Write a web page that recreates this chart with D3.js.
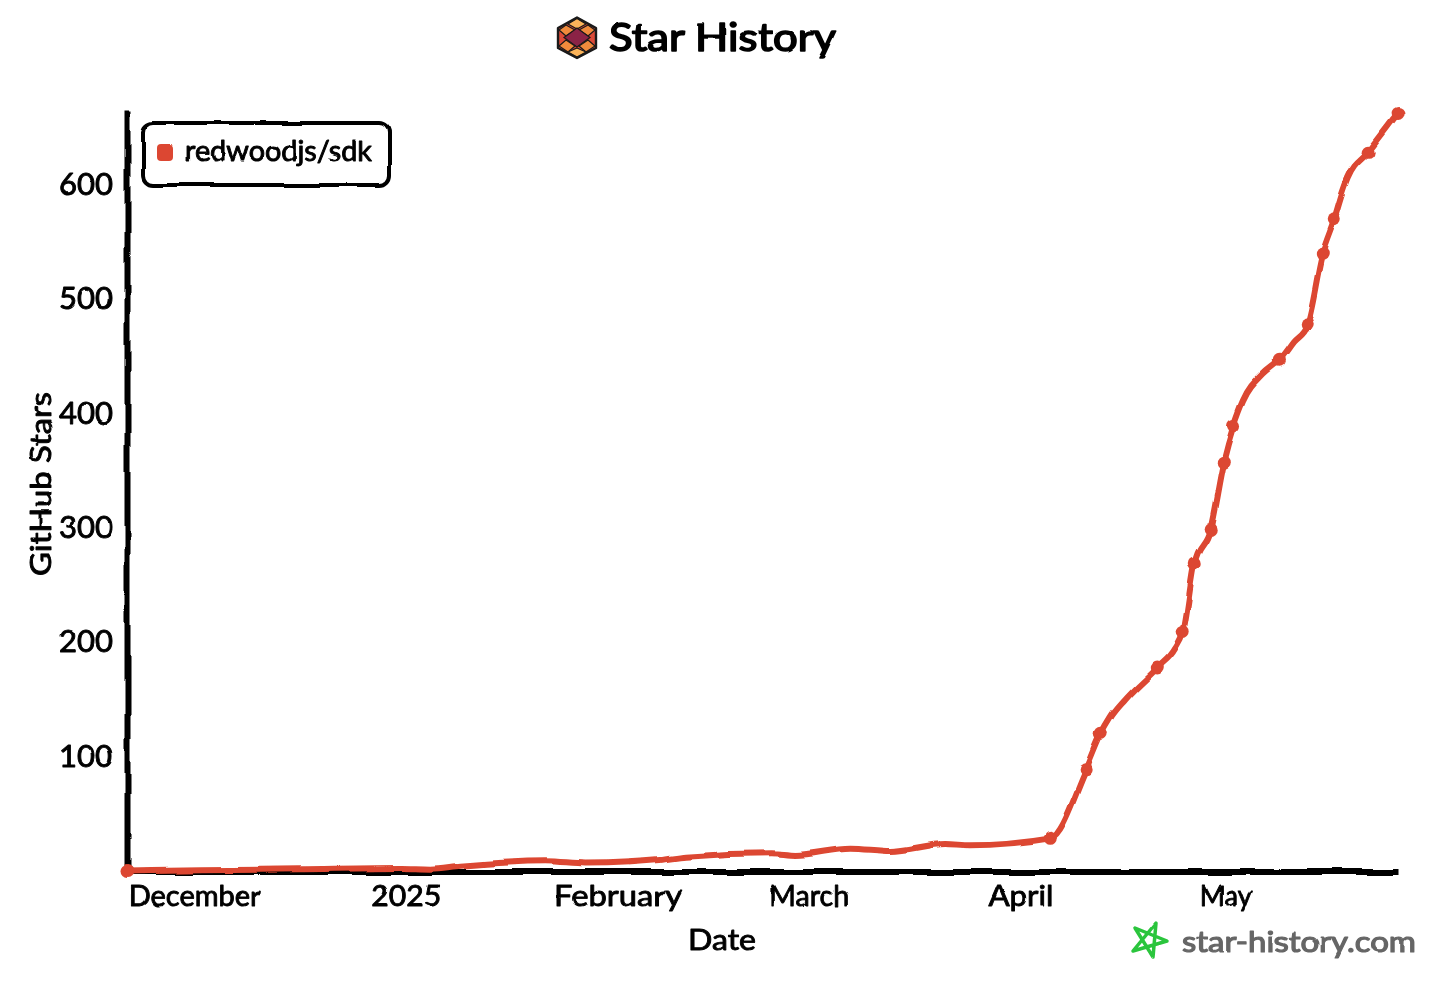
<!DOCTYPE html>
<html>
<head>
<meta charset="utf-8">
<script src="https://cdn.jsdelivr.net/npm/d3@7"></script>
<style>
  html, body { margin: 0; padding: 0; background: #fff; }
  text { font-family: "Lato", sans-serif; font-weight: 400; fill: #000; stroke: #000; stroke-width: 0.9; stroke-linejoin: round; }
</style>
</head>
<body>
<div id="container"></div>
<script>
/* DATA */
const seriesName = "redwoodjs/sdk"

// the line
const lineDates = ["2024-11-21T04", "2024-12-02T00", "2024-12-16T12", "2024-12-31T05", "2025-01-04T14", "2025-01-09T00",
  "2025-01-21T10", "2025-01-27T07", "2025-02-07T05", "2025-02-10T22", "2025-02-23T10", "2025-02-27T00",
  "2025-03-07T02", "2025-03-12T22", "2025-03-21T00", "2025-03-24T14", "2025-04-05T09", "2025-04-10T15",
  "2025-04-12T20", "2025-04-14T04", "2025-04-16T08", "2025-04-21T01", "2025-04-23T16", "2025-04-24T20",
  "2025-04-26T11", "2025-04-28T19", "2025-04-30T17", "2025-05-02T05", "2025-05-03T14", "2025-05-06T14",
  "2025-05-08T22", "2025-05-10T23", "2025-05-13T00", "2025-05-15T05", "2025-05-16T23", "2025-05-18T03", "2025-05-18T22",
  "2025-05-21T22", "2025-05-26T07"]
const lineStars = [0, 1, 2, 3, 2.5, 5,
  9, 7, 10, 13, 16, 14.5,
  20, 18, 24, 23, 29, 89,
  120, 134, 150, 178, 195, 210,
  269, 300, 358, 390, 412, 436,
  448, 464, 479, 540, 570, 593, 606,
  629, 663]

// the dots on the line
const dotDates = ["2024-11-21T04", "2025-04-05T09", "2025-04-10T15", "2025-04-12T20", "2025-04-21T01", "2025-04-24T20",
  "2025-04-26T11", "2025-04-28T19", "2025-04-30T17", "2025-05-02T05", "2025-05-08T22", "2025-05-13T00",
  "2025-05-15T05", "2025-05-16T23", "2025-05-21T22", "2025-05-26T07"]
const dotStars = [0, 29, 89, 120, 178, 210, 269, 300, 358, 390, 448, 479, 540, 570, 629, 663]

const xTickDates = ["2024-12-01T00", "2025-01-01T00", "2025-02-01T00", "2025-03-01T00", "2025-04-01T00", "2025-05-01T00"]
const xTickLabels = ["December", "2025", "February", "March", "April", "May"]
const yTicks = [100, 200, 300, 400, 500, 600]

/* CONSTANTS */
const width = 1450,
  height = 984,
  lineColor = "#dc4730",
  parseDate = s => new Date(s + ":00:00Z")

/* SCALES */
const xScale = d3.scaleUtc()
  .domain([parseDate("2024-11-21T04"), parseDate("2025-05-26T07")])
  .range([127, 1398])

const yScale = d3.scaleLinear()
  .domain([0, 666])
  .range([871.5, 110])

/* SVG */
const svg = d3.select("#container")
  .append("svg")
  .attr("width", width)
  .attr("height", height)
  .style("display", "block")

// the hand drawn look
const defs = svg.append("defs")
function addFilter(id, freq, scale) {
  const f = defs.append("filter")
    .attr("id", id)
    .attr("filterUnits", "userSpaceOnUse")
    .attr("x", 0).attr("y", 0)
    .attr("width", width).attr("height", height)
  f.append("feTurbulence")
    .attr("type", "fractalNoise")
    .attr("baseFrequency", freq)
    .attr("result", "noise")
  f.append("feDisplacementMap")
    .attr("scale", scale)
    .attr("xChannelSelector", "R")
    .attr("yChannelSelector", "G")
    .attr("in", "SourceGraphic")
    .attr("in2", "noise")
}
addFilter("xkcdify", 0.025, 6)
addFilter("xkcdify-text", 0.06, 2.5)

const sketch = svg.append("g").attr("filter", "url(#xkcdify)")
const words = svg.append("g").attr("filter", "url(#xkcdify-text)")

/* AXES */
const xAxis = d3.axisBottom(xScale)
  .tickValues(xTickDates.map(parseDate))
  .tickSize(0)
  .tickFormat((d, i) => xTickLabels[i])
const yAxis = d3.axisLeft(yScale)
  .tickValues(yTicks)
  .tickSize(0)

function drawAxis(axis, tx, ty, fontSize, pad) {
  // spine goes through the rough filter, labels through the lighter one
  const g = sketch.append("g")
    .attr("transform", `translate(${tx}, ${ty})`)
    .call(axis.tickPadding(pad))
  g.select(".domain").attr("stroke", "#000").attr("stroke-width", 6)
  const labels = words.append("g").attr("transform", `translate(${tx}, ${ty})`)
  g.selectAll(".tick").each(function() {
    const t = d3.select(this)
    labels.append("g")
      .attr("transform", t.attr("transform"))
      .append(() => t.select("text").attr("font-size", fontSize).attr("font-family", null).node())
  })
  g.selectAll(".tick").remove()
  return labels
}
const xLabels = drawAxis(xAxis, 0, 871.5, 29, 10)
xLabels.selectAll("text").attr("text-anchor", "middle").attr("dy", "0.71em").attr("y", 14)
xLabels.selectAll("text").attr("textLength", (d, i) => [132, 70, 128, 80, 65, 52][i]).attr("lengthAdjust", "spacingAndGlyphs")
const yLabels = drawAxis(yAxis, 127, 0, 30, 14)
yLabels.selectAll("text").attr("text-anchor", "end").attr("dy", "0.3em")
  .attr("textLength", 54).attr("lengthAdjust", "spacingAndGlyphs")

/* LINE */
const line = d3.line()
  .x(d => xScale(d.date))
  .y(d => yScale(d.stars))
  .curve(d3.curveMonotoneX)

const lineData = lineDates.map((d, i) => ({ date: parseDate(d), stars: lineStars[i] }))
const dotData = dotDates.map((d, i) => ({ date: parseDate(d), stars: dotStars[i] }))

sketch.append("path")
  .datum(lineData)
  .attr("d", line)
  .attr("fill", "none")
  .attr("stroke", lineColor)
  .attr("stroke-width", 6)
  .attr("stroke-linecap", "round")
  .attr("stroke-linejoin", "round")

sketch.selectAll("circle.dot")
  .data(dotData)
  .join("circle")
  .attr("class", "dot")
  .attr("cx", d => xScale(d.date))
  .attr("cy", d => yScale(d.stars))
  .attr("r", 6.5)
  .attr("fill", lineColor)

/* LEGEND */
sketch.append("rect")
  .attr("x", 143).attr("y", 123)
  .attr("width", 247).attr("height", 62)
  .attr("rx", 10)
  .attr("fill", "#fff")
  .attr("stroke", "#000")
  .attr("stroke-width", 4)
sketch.append("rect")
  .attr("x", 157).attr("y", 145)
  .attr("width", 17).attr("height", 16)
  .attr("rx", 4)
  .attr("fill", lineColor)
words.append("text")
  .attr("x", 185).attr("y", 161)
  .attr("font-size", 28)
  .attr("textLength", 187)
  .attr("lengthAdjust", "spacingAndGlyphs")
  .text(seriesName)

/* AXIS TITLES */
words.append("text")
  .attr("x", 722).attr("y", 950)
  .attr("text-anchor", "middle")
  .attr("font-size", 29)
  .attr("textLength", 68)
  .attr("lengthAdjust", "spacingAndGlyphs")
  .text("Date")
words.append("text")
  .attr("transform", "translate(51, 484) rotate(-90)")
  .attr("text-anchor", "middle")
  .attr("font-size", 28)
  .attr("textLength", 184)
  .attr("lengthAdjust", "spacingAndGlyphs")
  .text("GitHub Stars")

/* TITLE */
words.append("text")
  .attr("x", 609).attr("y", 51)
  .attr("font-size", 38)
  .attr("textLength", 227)
  .attr("lengthAdjust", "spacingAndGlyphs")
  .style("stroke-width", 1.6)
  .text("Star History")

// logo
const logo = svg.append("g")
const hexPts = "577,17.5 596,28 596,48 577,58 558,48 558,28"
logo.append("polygon").attr("points", hexPts).attr("fill", "#dc4a38")
const tiles = [
  ["577,18.5 586,24 577,29 568,24", "#fbb45a"],
  ["566,25 575,30 566,36 559,30", "#f08a3c"],
  ["588,25 595,30 588,36 579,30", "#f08a3c"],
  ["577,28 590,37.5 577,47 564,37.5", "#8b2346"],
  ["566,40 575,46 568,52 559,46", "#f08a3c"],
  ["588,40 595,46 586,52 579,46", "#f08a3c"],
  ["577,48 586,52 577,57 568,52", "#fbb45a"]
]
logo.selectAll("polygon.tile")
  .data(tiles)
  .join("polygon")
  .attr("class", "tile")
  .attr("points", d => d[0])
  .attr("fill", d => d[1])
  .attr("stroke", "#1a1a1a")
  .attr("stroke-width", 1.2)
logo.append("polygon").attr("points", hexPts)
  .attr("fill", "none").attr("stroke", "#1a1a1a").attr("stroke-width", 2.4)
  .attr("stroke-linejoin", "round")

/* WATERMARK */
words.append("polygon")
  .attr("points", "1156,923 1153,957 1135,928 1167,941 1133,951")
  .attr("fill", "none")
  .attr("stroke", "#2cc53c")
  .attr("stroke-width", 3.5)
  .attr("stroke-linejoin", "round")
words.append("text")
  .attr("x", 1182).attr("y", 952)
  .attr("font-size", 29)
  .attr("textLength", 234)
  .attr("lengthAdjust", "spacingAndGlyphs")
  .style("fill", "#666")
  .style("stroke", "#666")
  .style("stroke-width", 1.2)
  .text("star-history.com")
</script>
</body>
</html>
